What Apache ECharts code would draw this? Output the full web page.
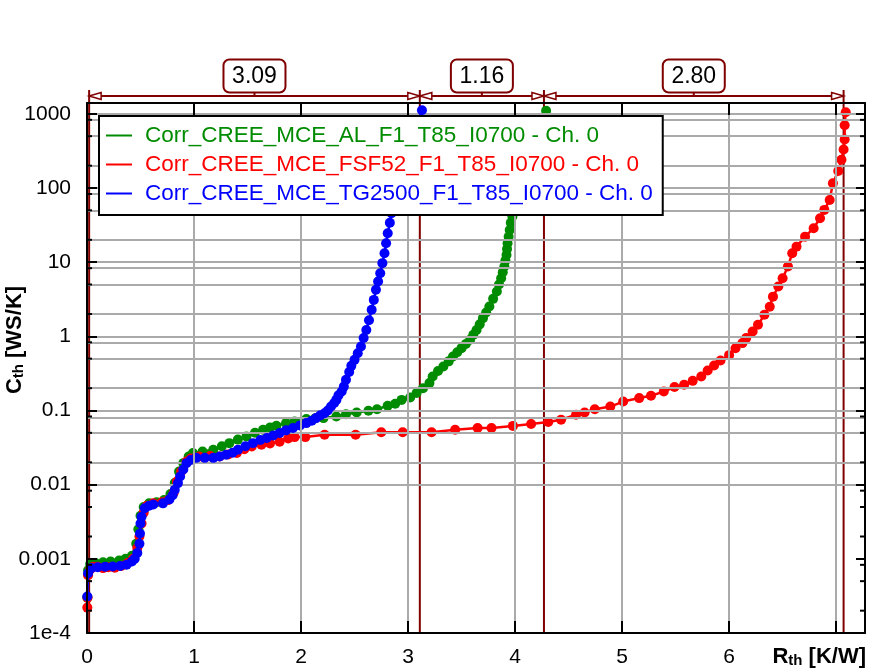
<!DOCTYPE html>
<html>
<head>
<meta charset="utf-8">
<script src="https://cdn.jsdelivr.net/npm/echarts@6/dist/echarts.min.js"></script>
<style>
html,body{margin:0;padding:0;background:#fff;}
#chart{width:874px;height:672px;}
</style>
</head>
<body>
<div id="chart"></div>
<script>
// ---------- data ----------
const seriesNames = [
  'Corr_CREE_MCE_AL_F1_T85_I0700 - Ch. 0',
  'Corr_CREE_MCE_FSF52_F1_T85_I0700 - Ch. 0',
  'Corr_CREE_MCE_TG2500_F1_T85_I0700 - Ch. 0'
];
const seriesColors = ['#008C00', '#FF0000', '#0000FF'];

// [Rth (K/W), Cth (WS/K)]
const alPoints = [
  [0.003,0.0003],[0.01,0.0007],[0.03,0.00085],[0.08,0.00088],[0.15,0.0009],[0.22,0.00092],
  [0.30,0.00095],[0.36,0.001],[0.42,0.0011],[0.46,0.0016],[0.48,0.0025],[0.50,0.0038],
  [0.53,0.005],[0.58,0.0056],[0.65,0.0058],[0.72,0.0062],[0.78,0.0075],[0.82,0.0105],
  [0.86,0.015],[0.90,0.0195],[0.95,0.024],[0.99,0.0267],[1.08,0.028],[1.18,0.0295],
  [1.26,0.033],[1.33,0.0363],[1.41,0.0405],[1.49,0.0447],[1.57,0.05],[1.645,0.055],
  [1.71,0.059],[1.77,0.0622],[1.86,0.0676],[1.94,0.071],[2.05,0.0766],[2.13,0.078],
  [2.21,0.079],[2.33,0.083],[2.42,0.089],[2.52,0.094],[2.63,0.099],[2.71,0.104],
  [2.81,0.116],[2.88,0.123],[2.94,0.139],[3.02,0.15],[3.08,0.172],[3.14,0.2],
  [3.20,0.234],[3.23,0.287],[3.28,0.34],[3.33,0.392],[3.38,0.46],[3.42,0.534],
  [3.46,0.61],[3.50,0.693],[3.54,0.79],[3.58,0.898],[3.61,1.05],[3.64,1.22],
  [3.67,1.45],[3.70,1.76],[3.73,2.1],[3.76,2.52],[3.795,3.2],[3.83,4.02],
  [3.85,5.0],[3.87,6.08],[3.885,7.3],[3.90,8.73],[3.91,10.5],[3.92,12.5],
  [3.925,15],[3.93,18],[3.94,22],[3.95,27.2],[3.96,34],[3.975,41.2],[3.98,48],
  [4.00,70],[4.03,110],[4.08,200],[4.15,400],[4.22,700],[4.29,1100]
];
const fsfPoints = [
  [0.003,0.00022],[0.005,0.0003],[0.01,0.0006],[0.03,0.00072],[0.06,0.00078],[0.10,0.00078],
  [0.15,0.00075],[0.20,0.00077],[0.26,0.00076],[0.32,0.0008],[0.38,0.00088],[0.43,0.001],
  [0.47,0.0014],[0.49,0.002],[0.51,0.003],[0.53,0.0042],[0.56,0.0052],[0.62,0.0056],
  [0.70,0.0058],[0.76,0.0062],[0.81,0.0078],[0.84,0.011],[0.88,0.015],[0.93,0.0205],
  [0.97,0.0225],[1.05,0.024],[1.15,0.0243],[1.24,0.024],[1.32,0.0255],[1.40,0.0267],
  [1.47,0.03],[1.54,0.0327],[1.63,0.0345],[1.71,0.036],[1.80,0.038],[1.88,0.042],
  [1.94,0.0438],[2.04,0.0438],[2.22,0.047],[2.51,0.047],[2.75,0.051],[2.95,0.051],
  [3.22,0.051],[3.44,0.055],[3.65,0.058],[3.78,0.058],[3.98,0.062],[4.15,0.0656],
  [4.31,0.07],[4.43,0.075],[4.57,0.0875],[4.65,0.094],[4.745,0.104],[4.89,0.113],
  [5.01,0.132],[5.16,0.147],[5.27,0.158],[5.39,0.18],[5.49,0.207],[5.58,0.222],
  [5.66,0.251],[5.74,0.287],[5.80,0.346],[5.86,0.404],[5.92,0.472],[6.00,0.558],
  [6.06,0.69],[6.125,0.81],[6.16,0.946],[6.22,1.16],[6.27,1.43],[6.33,1.95],
  [6.38,2.5],[6.41,3.43],[6.46,4.69],[6.50,6.08],[6.55,8.73],[6.59,13.2],
  [6.63,16.2],[6.71,22.1],[6.79,28.7],[6.85,39.2],[6.89,50.7],[6.94,69],
  [6.97,116],[7.02,170],[7.05,240],[7.07,330],[7.08,450],[7.08,700],[7.09,1050]
];
const tgPoints = [
  [0.003,0.00031],[0.01,0.00064],[0.04,0.00075],[0.10,0.00077],[0.17,0.00078],[0.24,0.00079],
  [0.31,0.0008],[0.37,0.00083],[0.42,0.00092],[0.446,0.001],[0.47,0.0012],[0.49,0.0016],
  [0.495,0.0022],[0.50,0.003],[0.51,0.0037],[0.54,0.0048],[0.58,0.0052],[0.62,0.0054],
  [0.71,0.0056],[0.77,0.0063],[0.80,0.0072],[0.82,0.0085],[0.85,0.0105],[0.87,0.0129],
  [0.90,0.016],[0.93,0.0195],[0.97,0.0215],[1.02,0.023],[1.10,0.023],[1.18,0.023],
  [1.24,0.024],[1.30,0.0253],[1.36,0.027],[1.41,0.0295],[1.48,0.033],[1.55,0.0363],
  [1.62,0.04],[1.68,0.0425],[1.74,0.046],[1.80,0.0496],[1.86,0.054],[1.925,0.058],
  [1.99,0.063],[2.05,0.0676],[2.10,0.073],[2.14,0.079],[2.18,0.086],[2.22,0.092],
  [2.25,0.1],[2.28,0.113],[2.31,0.126],[2.33,0.139],[2.35,0.16],[2.38,0.18],
  [2.40,0.21],[2.42,0.26],[2.45,0.33],[2.47,0.4],[2.50,0.482],[2.53,0.59],
  [2.56,0.73],[2.585,0.95],[2.61,1.22],[2.635,1.65],[2.66,2.28],[2.68,3.1],
  [2.70,4.24],[2.72,5.5],[2.74,7.1],[2.76,9.7],[2.78,13.2],[2.795,18],
  [2.81,24.5],[2.83,34],[2.845,45.7],[2.87,70],[2.92,130],[2.98,250],
  [3.05,500],[3.13,1120]
];

// cursors (K/W) and the differences shown between them
const cursorX = [0.02, 3.11, 4.27, 7.07];
const cursorLabels = ['3.09', '1.16', '2.80'];

// tick labels
const xLabels = ['0','1','2','3','4','5','6'];
const yLabels = ['1e-4','0.001','0.01','0.1','1','10','100','1000'];
const decades = [-3,-2,-1,0,1,2,3];
const gridFactors = [1, 0.83, 0.5, 0.2];

// ---------- chart ----------
const FONT = '"Liberation Sans", Arial, Helvetica, sans-serif';
const DARKRED = '#800000';
const GRIDC = '#AAAAAA';
const chart = echarts.init(document.getElementById('chart'), null, {renderer:'canvas'});

const hGridValues = [];
const minorValues = [];
decades.forEach(d => gridFactors.forEach(f => {
  const v = f * Math.pow(10, d);
  hGridValues.push(v);
  if (f !== 1) minorValues.push(v);
}));

function xFmt(v){
  const r = Math.round(v);
  if (Math.abs(v - r) > 1e-6) return '';
  return xLabels[r] !== undefined ? xLabels[r] : '';
}
function yFmt(v){
  const e = Math.log10(v);
  const r = Math.round(e);
  if (Math.abs(e - r) > 1e-6) return '';
  const s = yLabels[r + 4];
  return s !== undefined ? s : '';
}

const xCommon = {type:'value', min:0, max:7.27, interval:1, z: 6};
const yCommon = {type:'log', logBase:10, min:1e-4, max:1400, z: 6};

const dataSeries = [alPoints, fsfPoints, tgPoints].map((pts, i) => ({
  name: seriesNames[i],
  type: 'line',
  data: pts,
  xAxisIndex: 0, yAxisIndex: 0,
  symbol: 'circle',
  symbolSize: 10,
  showSymbol: true,
  lineStyle: {width: 2.5, color: seriesColors[i]},
  itemStyle: {color: seriesColors[i]},
  z: 3 + i,
  emphasis: {disabled: true}
}));

const option = {
  animation: false,
  backgroundColor: '#ffffff',
  grid: {left: 87, right: 9, top: 103, bottom: 39, containLabel: false, show: false},
  legend: {
    orient: 'vertical',
    left: 99, top: 116,
    backgroundColor: '#ffffff',
    borderColor: '#000000',
    borderWidth: 2,
    borderRadius: 0,
    padding: [8, 10, 10, 7],
    itemGap: 6,
    itemWidth: 26,
    itemHeight: 2,
    icon: 'rect',
    selectedMode: false,
    textStyle: {fontSize: 22.5, fontFamily: FONT, lineHeight: 22, padding: [0,0,0,8]},
    data: seriesNames.map((n, i) => ({name: n, textStyle: {color: seriesColors[i]}})),
    z: 10
  },
  xAxis: [
    Object.assign({}, xCommon, {
      position: 'bottom',
      axisLine: {show: true, onZero: false, lineStyle: {color: '#000', width: 2}},
      axisTick: {show: true, inside: true, length: 12, lineStyle: {color: '#000', width: 2}},
      axisLabel: {show: true, formatter: xFmt, fontSize: 21, fontFamily: FONT, color: '#000', margin: 14, showMaxLabel: false},
      splitLine: {show: true, lineStyle: {color: GRIDC, width: 2}}
    }),
    Object.assign({}, xCommon, {
      position: 'top',
      axisLine: {show: true, onZero: false, lineStyle: {color: '#000', width: 2}},
      axisTick: {show: true, inside: true, length: 12, lineStyle: {color: '#000', width: 2}},
      axisLabel: {show: false},
      splitLine: {show: false}
    })
  ],
  yAxis: [
    Object.assign({}, yCommon, {
      position: 'left',
      axisLine: {show: true, onZero: false, lineStyle: {color: '#000', width: 2}},
      axisTick: {show: true, inside: true, length: 10, lineStyle: {color: '#000', width: 2}},
      axisLabel: {show: true, formatter: yFmt, fontSize: 21, fontFamily: FONT, color: '#000', margin: 16},
      splitLine: {show: false},
      minorTick: {show: false}
    }),
    Object.assign({}, yCommon, {
      position: 'right',
      axisLine: {show: true, onZero: false, lineStyle: {color: '#000', width: 2}},
      axisTick: {show: true, inside: true, length: 9, lineStyle: {color: '#000', width: 2}},
      axisLabel: {show: false},
      splitLine: {show: false}
    })
  ],
  series: [
    {
      type: 'line', data: [], xAxisIndex: 0, yAxisIndex: 0, z: 1, silent: true,
      markLine: {
        silent: true, symbol: ['none','none'], animation: false,
        label: {show: false},
        lineStyle: {color: GRIDC, width: 2, type: 'solid'},
        emphasis: {disabled: true},
        data: hGridValues.map(v => ({yAxis: v}))
      }
    }
  ].concat(dataSeries)
};
chart.setOption(option);

// ---------- cursors, minor ticks & axis titles (positions from the chart's scales) ----------
const px = v => chart.convertToPixel({xAxisIndex: 0}, v);
const py = v => chart.convertToPixel({yAxisIndex: 0}, v);
const yBottom = py(1e-4);
const xLeft = px(0), xRight = px(7.27);
const barY = 96;
const g = [];

minorValues.forEach(v => {
  const y = py(v);
  g.push({type:'line', z: 7, silent:true, shape:{x1:xLeft, y1:y, x2:xLeft+5, y2:y}, style:{stroke:'#000', lineWidth:2}});
  g.push({type:'line', z: 7, silent:true, shape:{x1:xRight-5, y1:y, x2:xRight, y2:y}, style:{stroke:'#000', lineWidth:2}});
});

const cpx = cursorX.map(px);
cpx.forEach((x, i) => {
  g.push({type:'line', z: 2, silent:true, shape:{x1:x, y1:barY-6, x2:x, y2:yBottom}, style:{stroke:DARKRED, lineWidth:2}});
});
g.push({type:'line', z: 2, silent:true, shape:{x1:cpx[0], y1:barY, x2:cpx[cpx.length-1], y2:barY}, style:{stroke:DARKRED, lineWidth:2}});
cpx.forEach((x, i) => {
  if (i > 0) g.push({type:'polygon', z: 2, silent:true, shape:{points:[[x,barY],[x-12,barY-3.5],[x-12,barY+3.5]]}, style:{fill:'#fff', stroke:DARKRED, lineWidth:1.5}});
  if (i < cpx.length-1) g.push({type:'polygon', z: 2, silent:true, shape:{points:[[x,barY],[x+12,barY-3.5],[x+12,barY+3.5]]}, style:{fill:'#fff', stroke:DARKRED, lineWidth:1.5}});
});
cursorLabels.forEach((lab, i) => {
  const mid = (cpx[i] + cpx[i+1]) / 2;
  g.push({type:'line', z: 2, silent:true, shape:{x1:mid, y1:92, x2:mid, y2:barY}, style:{stroke:DARKRED, lineWidth:2}});
  g.push({type:'rect', z: 2, silent:true, shape:{x:mid-31, y:59.5, width:62, height:33, r:6}, style:{fill:'#fff', stroke:DARKRED, lineWidth:2}});
  g.push({type:'text', z: 3, silent:true, x: mid, y: 76.5, style:{text: lab, fill:'#000', font: '23px ' + FONT, align:'center', verticalAlign:'middle'}});
});

const titleRich = {
  b: {fontSize: 22, fontWeight: 'bold', fontFamily: FONT, fill: '#000', lineHeight: 22},
  s: {fontSize: 15, fontWeight: 'bold', fontFamily: FONT, fill: '#000', lineHeight: 13, verticalAlign: 'bottom'}
};
g.push({type:'text', z: 3, silent:true, x: 866, y: 657, style:{text:'{b|R}{s|th}{b| [K/W]}', rich: titleRich, align:'right', verticalAlign:'middle'}});
g.push({type:'text', z: 3, silent:true, x: 15, y: 340, rotation: Math.PI/2, style:{text:'{b|C}{s|th}{b| [WS/K]}', rich: titleRich, align:'center', verticalAlign:'middle'}});

chart.setOption({graphic: {elements: g}});
</script>
</body>
</html>
